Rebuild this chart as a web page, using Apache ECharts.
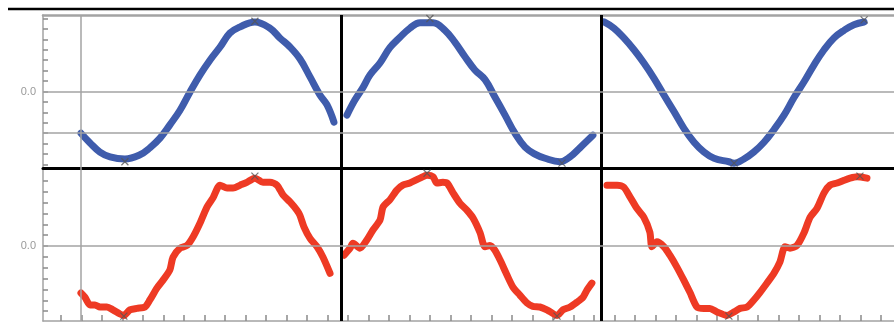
<!DOCTYPE html>
<html>
<head>
<meta charset="utf-8">
<script src="https://cdn.jsdelivr.net/npm/echarts@6/dist/echarts.min.js"></script>
<style>
  html, body { margin: 0; padding: 0; background: #ffffff; }
  #chart { width: 894px; height: 322px; }
</style>
</head>
<body>
<div id="chart"></div>
<script>
// Phase (percent of one cycle, 100 per panel) and signal value pairs.
const blueCycle1 = [[0,-0.60],[3.5,-0.74],[7.3,-0.87],[11.2,-0.94],[16.9,-0.97],[22.7,-0.91],[26.5,-0.81],[30.4,-0.67],[34.2,-0.48],[38.1,-0.27],[41.9,-0.01],[45.8,0.24],[49.6,0.45],[53.5,0.64],[57.3,0.84],[61.2,0.93],[66.9,1.00],[72.7,0.91],[76.5,0.77],[80.4,0.64],[84.2,0.47],[88.1,0.21],[91.9,-0.05],[94.6,-0.19],[97.3,-0.44]];
const blueCycle2 = [[102.3,-0.34],[105.4,-0.12],[108.5,0.06],[111.2,0.24],[115,0.41],[118.8,0.63],[122.7,0.78],[126.5,0.91],[130.4,0.99],[135.4,0.99],[140,0.88],[143.8,0.71],[147.7,0.50],[151.5,0.31],[155.4,0.17],[159.2,-0.08],[163.1,-0.34],[166.9,-0.60],[170.8,-0.80],[174.6,-0.90],[178.5,-0.96],[184.2,-1.01],[188.1,-0.94],[191.9,-0.81],[196.9,-0.63]];
const blueCycle3 = [[201.2,1.00],[205,0.91],[208.8,0.77],[212.7,0.60],[216.5,0.41],[220.4,0.19],[224.2,-0.05],[228.1,-0.29],[231.9,-0.53],[235.8,-0.73],[239.6,-0.87],[243.5,-0.96],[249.2,-1.01],[251.2,-1.03],[255,-0.97],[258.8,-0.87],[262.7,-0.73],[266.5,-0.55],[270.4,-0.34],[274.2,-0.09],[278.1,0.14],[281.9,0.38],[285.8,0.60],[289.6,0.77],[293.5,0.88],[297.3,0.96],[301.2,1.00]];

const redCycle1 = [[0,-0.67],[1.5,-0.73],[3.5,-0.84],[5.4,-0.84],[7.3,-0.87],[10,-0.87],[12.3,-0.91],[15,-0.97],[16.5,-0.99],[18.8,-0.91],[21.5,-0.89],[24.6,-0.87],[26.5,-0.77],[29.2,-0.60],[31.5,-0.49],[34.2,-0.34],[35.4,-0.16],[38.1,-0.03],[40.8,0.01],[43.1,0.13],[45.8,0.33],[48.5,0.56],[50.8,0.69],[53.5,0.87],[56.2,0.83],[58.5,0.83],[61.2,0.87],[63.8,0.91],[66.9,0.97],[70,0.91],[72.7,0.91],[75.4,0.87],[77.7,0.73],[80.4,0.63],[83.1,0.51],[84.2,0.44],[85.8,0.27],[88.1,0.11],[90.8,-0.01],[93.1,-0.16],[95.8,-0.39]];
const redCycle2 = [[101.2,-0.13],[103.5,-0.03],[104.6,0.04],[107.3,-0.03],[110,0.09],[112.3,0.23],[115,0.37],[116.2,0.56],[118.8,0.66],[121.5,0.80],[123.8,0.87],[126.5,0.90],[130.4,0.97],[133.1,1.01],[135.4,0.99],[136.9,0.90],[139.2,0.91],[140.8,0.90],[143.1,0.76],[145.8,0.61],[148.5,0.51],[150.8,0.40],[153.5,0.19],[155.4,-0.01],[157.3,0.01],[159.2,-0.06],[161.2,-0.20],[163.8,-0.41],[166.2,-0.59],[168.8,-0.70],[171.5,-0.81],[173.8,-0.86],[176.5,-0.87],[179.2,-0.91],[183.1,-0.99],[185.4,-0.91],[188.1,-0.87],[190.8,-0.80],[193.1,-0.73],[194.6,-0.63],[196.5,-0.53]];
const redCycle3 = [[202.3,0.87],[206.2,0.87],[208.8,0.84],[211.2,0.70],[213.8,0.54],[216.5,0.41],[218.8,0.20],[219.6,-0.01],[221.5,0.06],[224.2,-0.01],[226.5,-0.13],[229.2,-0.30],[231.9,-0.49],[234.2,-0.66],[236.9,-0.87],[239.6,-0.89],[241.9,-0.89],[244.6,-0.94],[248.5,-0.99],[251.2,-0.94],[253.5,-0.89],[256.2,-0.87],[258.8,-0.77],[261.2,-0.66],[263.8,-0.53],[266.5,-0.39],[268.8,-0.23],[270.8,-0.01],[272.7,-0.03],[275.4,0.01],[278.1,0.19],[280.4,0.41],[283.1,0.54],[285.8,0.76],[288.1,0.87],[290.8,0.90],[293.5,0.94],[295.8,0.97],[298.5,0.99],[302.3,0.97]];

// Peaks and troughs flagged with a cross.
const blueExtrema = [[16.9,-1.01],[66.9,1.01],[134.2,1.05],[185,-1.03],[251.2,-1.03],[301.2,1.03]];
const redExtrema = [[16.5,-1.00],[66.9,1.00],[133.1,1.04],[183.1,-1.00],[249.2,-1.00],[299.6,1.00]];

// Cycle boundaries and reference levels.
const cycleStarts = [0, 100, 200];
const blueRefLevels = [0, -0.6];
const redRefLevels = [0];

const tMin = -14.6, tMax = 312.7;
const GRAY = '#a3a3a3';
const BLUE = '#3f5cac';
const RED = '#ee3a24';

// Minor tick positions along each axis.
const xTicks = [];
for (let t = -7.69; t <= tMax; t += 7.885) xTicks.push(+t.toFixed(3));
const blueYTicks = [];
for (let k = -7; k <= 7; k++) blueYTicks.push(+(k * 0.15).toFixed(3));
const redYTicks = [];
for (let k = -6; k <= 6; k++) redYTicks.push(+(k * 0.155).toFixed(3));

const chart = echarts.init(document.getElementById('chart'), null, { renderer: 'canvas' });

function refLines(levels) {
  const data = [];
  cycleStarts.forEach((c, i) => data.push({
    xAxis: c,
    lineStyle: i === 0 ? { color: GRAY, width: 1.5, type: 'solid' } : { color: '#000', width: 3, type: 'solid' }
  }));
  levels.forEach(l => data.push({ yAxis: l, lineStyle: { color: GRAY, width: 1.5, type: 'solid' } }));
  return { silent: true, symbol: ['none', 'none'], label: { show: false }, animation: false, data: data };
}

function yAxisFor(grid, min, max, ticks) {
  return {
    type: 'value', gridIndex: grid, min: min, max: max, position: 'left',
    axisLine: { show: true, onZero: false, lineStyle: { color: GRAY, width: 1.5 } },
    axisTick: { show: true, inside: true, length: 5, customValues: ticks, lineStyle: { color: '#8a8a8a', width: 1.5 } },
    axisLabel: { show: true, customValues: [0], formatter: v => v.toFixed(1), color: '#9a9a9a', fontSize: 11, fontFamily: 'Liberation Sans, Arial, sans-serif', margin: 7 },
    splitLine: { show: false }
  };
}

function lineSeries(data, color, ax, smooth, extra) {
  return Object.assign({
    type: 'line', xAxisIndex: ax, yAxisIndex: ax, data: data,
    showSymbol: false, symbol: 'none', smooth: smooth,
    lineStyle: { color: color, width: 7, cap: 'round', join: 'round' },
    z: 3
  }, extra || {});
}

function crossSeries(data, ax) {
  return {
    type: 'scatter', xAxisIndex: ax, yAxisIndex: ax, data: data,
    symbol: 'path://M0 0L10 10M10 0L0 10', symbolSize: 7,
    itemStyle: { color: 'rgba(0,0,0,0)', borderColor: '#555', borderWidth: 1.2 },
    z: 4, silent: true
  };
}

chart.setOption({
  animation: false,
  backgroundColor: '#ffffff',
  grid: [
    { left: 43, right: 0, top: 15, height: 153 },
    { left: 43, right: 0, top: 168, height: 153 }
  ],
  xAxis: [
    { type: 'value', gridIndex: 0, min: tMin, max: tMax, position: 'top',
      axisLine: { show: true, onZero: false, lineStyle: { color: GRAY, width: 2.5 } },
      axisTick: { show: false }, axisLabel: { show: false }, splitLine: { show: false } },
    { type: 'value', gridIndex: 1, min: tMin, max: tMax, position: 'bottom',
      axisLine: { show: true, onZero: false, lineStyle: { color: GRAY, width: 1.5 } },
      axisTick: { show: true, inside: true, length: 6, customValues: xTicks, lineStyle: { color: '#8a8a8a', width: 1.5 } },
      axisLabel: { show: false }, splitLine: { show: false } },
    { type: 'value', gridIndex: 1, min: tMin, max: tMax, position: 'top',
      axisLine: { show: true, onZero: false, lineStyle: { color: '#000', width: 3 } },
      axisTick: { show: false }, axisLabel: { show: false }, splitLine: { show: false } }
  ],
  yAxis: [
    yAxisFor(0, -1.1, 1.1, blueYTicks),
    yAxisFor(1, -1.07, 1.115, redYTicks)
  ],
  graphic: [
    { type: 'line', shape: { x1: 8, y1: 9, x2: 894, y2: 9 }, style: { stroke: '#000', lineWidth: 2.5 }, silent: true }
  ],
  series: [
    lineSeries(blueCycle1, BLUE, 0, 0.4, { markLine: refLines(blueRefLevels) }),
    lineSeries(blueCycle2, BLUE, 0, 0.4),
    lineSeries(blueCycle3, BLUE, 0, 0.4),
    lineSeries(redCycle1, RED, 1, 0.25, { markLine: refLines(redRefLevels) }),
    lineSeries(redCycle2, RED, 1, 0.25),
    lineSeries(redCycle3, RED, 1, 0.25),
    crossSeries(blueExtrema, 0),
    crossSeries(redExtrema, 1)
  ]
});
</script>
</body>
</html>
